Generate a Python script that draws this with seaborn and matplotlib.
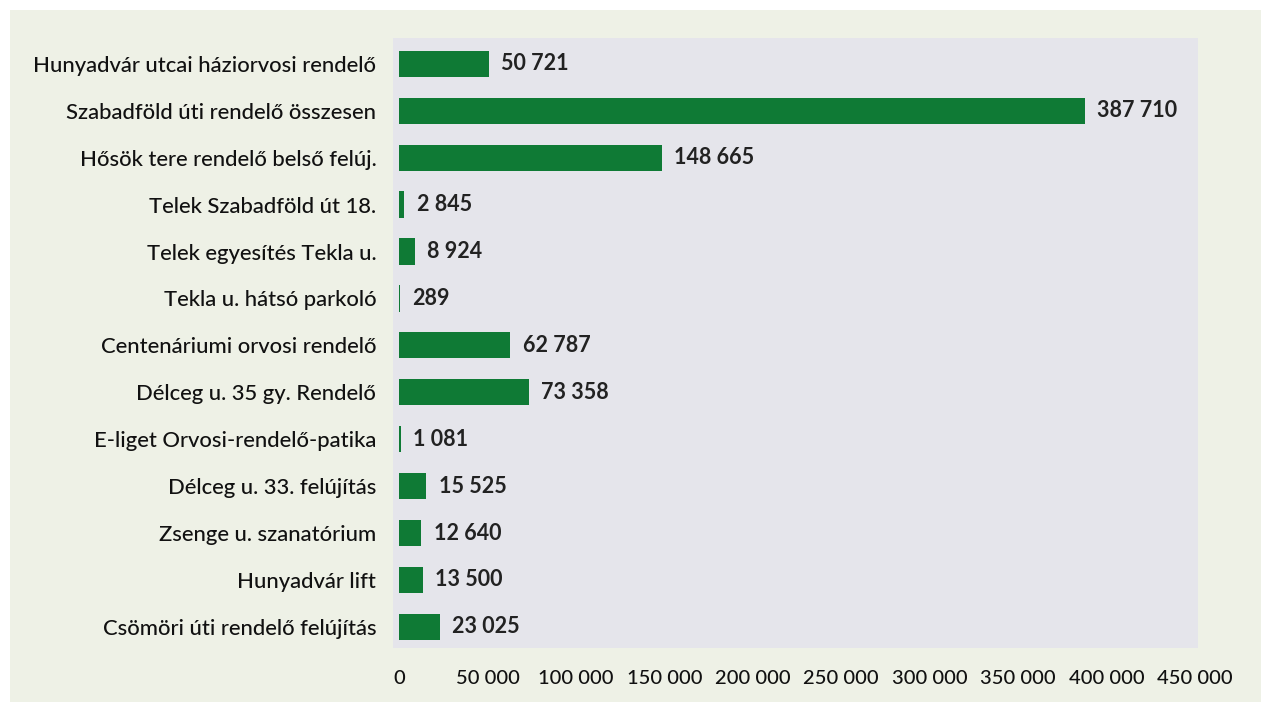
import matplotlib
matplotlib.use('Agg')
import matplotlib.pyplot as plt
import seaborn as sns
import pandas as pd

# ----------------------
# Data
projects = [
    'Hunyadvár utcai háziorvosi rendelő',
    'Szabadföld úti rendelő összesen',
    'Hősök tere rendelő belső felúj.',
    'Telek Szabadföld út 18.',
    'Telek egyesítés Tekla u.',
    'Tekla u. hátsó parkoló',
    'Centenáriumi orvosi rendelő',
    'Délceg u. 35 gy. Rendelő',
    'E-liget Orvosi-rendelő-patika',
    'Délceg u. 33. felújítás',
    'Zsenge u. szanatórium',
    'Hunyadvár lift',
    'Csömöri úti rendelő felújítás',
]
amounts = [50721, 387710, 148665, 2845, 8924, 289, 62787, 73358, 1081, 15525, 12640, 13500, 23025]
x_ticks = [0, 50000, 100000, 150000, 200000, 250000, 300000, 350000, 400000, 450000]


def fmt(v):
    return f'{v:,}'.replace(',', ' ')


df = pd.DataFrame({'project': projects, 'amount': amounts})

sns.set_style('white')
plt.rcParams['font.family'] = ['Lato', 'DejaVu Sans']

fig = plt.figure(figsize=(12.61, 7.02), dpi=100, facecolor='white')
# light green outer panel
fig.add_artist(plt.Rectangle((10 / 1261, 0), 1, 1 - 10 / 702,
                             transform=fig.transFigure, facecolor='#eef1e6',
                             edgecolor='none', zorder=-10))

ax = fig.add_axes([393 / 1261, 1 - 648 / 702, (1198 - 393) / 1261, (648 - 38) / 702])
ax.set_facecolor('#e5e5eb')

sns.barplot(data=df, y='project', x='amount', orient='h', color='#0f7a35',
            width=0.56, saturation=1, linewidth=0, ax=ax)

ax.bar_label(ax.containers[0], labels=[fmt(v) for v in amounts], padding=9,
             fontsize=15.5, fontweight='bold', color='#222222')

ax.set_xlim(-3400, 451700)
ax.set_ylim(12.45, -0.55)
ax.set_xticks(x_ticks)
ax.set_xticklabels([fmt(v) for v in x_ticks])
ax.set_xlabel('')
ax.set_ylabel('')
ax.tick_params(axis='y', length=0, pad=12, labelsize=15.8, labelcolor='#111111')
ax.tick_params(axis='x', length=0, pad=16, labelsize=14.5, labelcolor='#111111')
for lbl in ax.get_yticklabels() + ax.get_xticklabels():
    lbl.set_fontweight('medium')
for s in ax.spines.values():
    s.set_visible(False)

fig.savefig('out.png', dpi=100, facecolor=fig.get_facecolor())
